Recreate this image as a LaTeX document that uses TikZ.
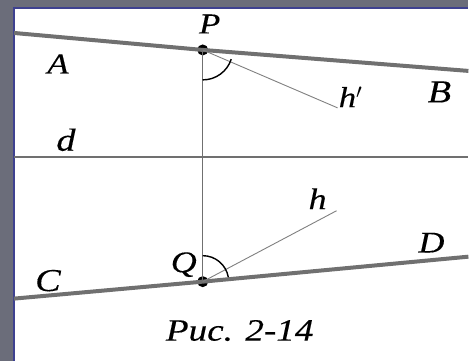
\documentclass[tikz,border=0pt]{standalone}
\usepackage{fontspec}
\setmainfont{Liberation Serif}[FakeStretch=1.2,FakeBold=0.3]
\usepackage{xcolor}
\usepackage{tikz}

\definecolor{framegray}{HTML}{6B6D7A}
\definecolor{frameblue}{HTML}{3E4190}
\definecolor{linegray}{HTML}{707070}

\tikzset{
  lbl/.style={font=\fontsize{#1}{#1}\selectfont\itshape, inner sep=0pt},
  thickline/.style={line width=4pt, linegray},
  ray/.style={line width=0.9pt, gray},
  dot/.style={circle, fill=black, inner sep=0pt, minimum size=11pt}
}

\begin{document}
\begin{tikzpicture}[x=1pt,y=-1pt]
  % frame
  \fill[framegray] (0,0) rectangle (469,361);
  \fill[white] (14,8) rectangle (469,361);
  \draw[frameblue,line width=1.2pt] (14,361) -- (14,8) -- (469,8);
  \useasboundingbox (0,0) rectangle (469,361);

  % points
  \node[dot] (P) at (203,50) {};
  \node[dot] (Q) at (203,282) {};
  \coordinate (a) at (14,33);
  \coordinate (b) at (469,71);
  \coordinate (c) at (14,299);
  \coordinate (e) at (469,257);
  \coordinate (hp) at (338,108);
  \coordinate (h) at (337,211);

  % lines AB, CD and d
  \draw[thickline] (a) -- (P.center) -- (b);
  \draw[thickline] (c) -- (Q.center) -- (e);
  \draw[line width=2.5pt, linegray] (14,157) -- (469,157);
  \draw[line width=1.2pt, linegray] (P.center) -- (Q.center);

  % rays and angles
  \draw[ray] (P.center) -- (hp);
  \draw[ray] (Q.center) -- (h);
  \draw[line width=1.4pt] ([shift={(18:30)}]P.center) arc[start angle=18,end angle=90,radius=30];
  \draw[line width=1.4pt] ([shift={(-90:26)}]Q.center) arc[start angle=-90,end angle=-10,radius=26];

  % labels
  \node[lbl=29] at (210,24) {P};
  \node[lbl=29] at (58,64) {A};
  \node[lbl=32] at (440,92) {B};
  \node[lbl=29] at (351,97) {h$'$};
  \node[lbl=32] at (66,140) {d};
  \node[lbl=30] at (318,199) {h};
  \node[lbl=30] at (184,265) {Q};
  \node[lbl=32] at (48,281) {C};
  \node[lbl=30] at (432,243) {D};
  \node[lbl=31] at (240,331) {Рис. 2-14};
\end{tikzpicture}
\end{document}
